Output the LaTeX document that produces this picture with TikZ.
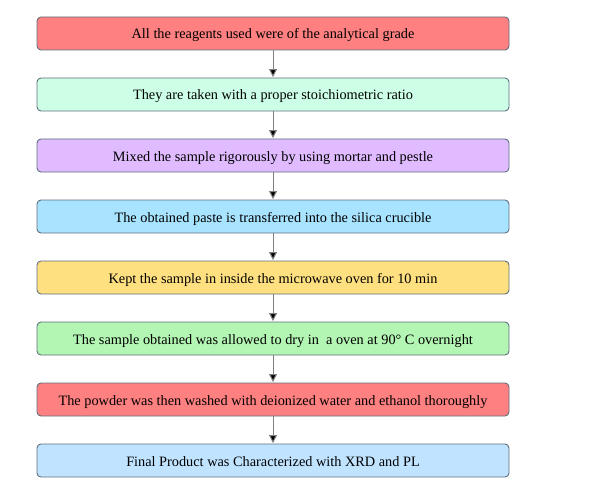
\documentclass[tikz,border=0pt]{standalone}
\usepackage{fontspec}
\setmainfont{Liberation Serif}
\usetikzlibrary{arrows.meta}
\definecolor{cRed}{HTML}{FF8080}
\definecolor{cMint}{HTML}{CCFFE6}
\definecolor{cPurple}{HTML}{E0BBFF}
\definecolor{cCyan}{HTML}{A8E4FF}
\definecolor{cYellow}{HTML}{FFE080}
\definecolor{cGreen}{HTML}{B3F5B3}
\definecolor{cBlue}{HTML}{C0E4FF}
\definecolor{cBorder}{HTML}{5F6F7F}
\tikzset{
  stepbox/.style={draw=cBorder, line width=0.9pt, rounded corners=4pt,
    minimum width=472pt, minimum height=33pt, inner sep=0pt,
    text height=11pt, text depth=0pt,
    font=\rmfamily\fontsize{14.3pt}{16pt}\selectfont, text=black},
  flow/.style={draw=gray, line width=1pt, -{Triangle[length=8pt,width=8pt,fill=black]}, shorten >=0.5pt}
}
\begin{document}
\begin{tikzpicture}[x=1pt,y=-1pt]
\useasboundingbox (0,0) rectangle (609,481);
\node[stepbox, fill=cRed]    (b1) at (273,33.5)  {All the reagents used were of the analytical grade};
\node[stepbox, fill=cMint]   (b2) at (273,94.5)  {They are taken with a proper stoichiometric ratio};
\node[stepbox, fill=cPurple] (b3) at (273,155.5) {Mixed the sample rigorously by using mortar and pestle};
\node[stepbox, fill=cCyan]   (b4) at (273,216.5) {The obtained paste is transferred into the silica crucible};
\node[stepbox, fill=cYellow] (b5) at (273,277.5) {Kept the sample in inside the microwave oven for 10 min};
\node[stepbox, fill=cGreen]  (b6) at (273,338.5) {The sample obtained was allowed to dry in\ \ a oven at 90° C overnight};
\node[stepbox, fill=cRed]    (b7) at (273,399.5) {The powder was then washed with deionized water and ethanol thoroughly};
\node[stepbox, fill=cBlue]   (b8) at (273,460.5) {Final Product was Characterized with XRD and PL};
\foreach \a/\b in {b1/b2,b2/b3,b3/b4,b4/b5,b5/b6,b6/b7,b7/b8}
  \draw[flow] (\a) -- (\b);
\end{tikzpicture}
\end{document}
